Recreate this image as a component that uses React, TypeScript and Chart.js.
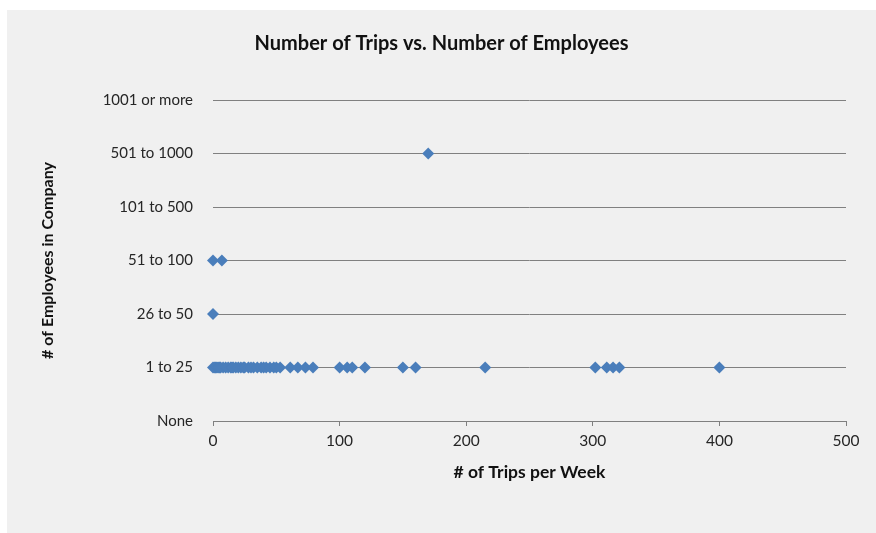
import React, { useEffect, useRef } from "react";
import { Chart, registerables } from "chart.js";

Chart.register(...registerables);

const categories = ["None", "1 to 25", "26 to 50", "51 to 100", "101 to 500", "501 to 1000", "1001 or more"];
const tripsSmall = [0, 1, 2, 3, 4, 5, 6, 8, 10, 12, 14, 15, 16, 18, 20, 22, 24, 25, 28, 30, 32, 35, 38, 40, 42, 45, 48, 50, 53, 61, 67, 73, 79, 100, 106, 110, 120, 150, 160, 215, 302, 311, 316, 321, 400];
const trips26to50 = [0];
const trips51to100 = [0, 7];
const trips501to1000 = [170];
const xTicks = [0, 100, 200, 300, 400, 500];

const FONT = "Lato, 'Open Sans', sans-serif";

export default function App() {
  const ref = useRef<HTMLCanvasElement>(null);
  useEffect(() => {
    const pts = [
      ...tripsSmall.map((x) => ({ x, y: 1 })),
      ...trips26to50.map((x) => ({ x, y: 2 })),
      ...trips51to100.map((x) => ({ x, y: 3 })),
      ...trips501to1000.map((x) => ({ x, y: 5 })),
    ];
    const chart = new Chart(ref.current!, {
      type: "scatter",
      data: {
        datasets: [
          {
            data: pts,
            pointStyle: "rectRot",
            pointRadius: 6,
            backgroundColor: "#4A7EBB",
            borderColor: "#4A7EBB",
            borderWidth: 0,
            clip: false,
          } as any,
        ],
      },
      options: {
        animation: false,
        responsive: true,
        maintainAspectRatio: false,
        layout: { padding: 0 },
        plugins: {
          legend: { display: false },
          tooltip: { enabled: false },
          title: {
            display: true,
            text: "Number of Trips vs. Number of Employees",
            color: "#111",
            font: { family: FONT, size: 20, weight: "bold" },
            padding: { top: 22, bottom: 44 },
          },
        },
        scales: {
          x: {
            type: "linear",
            min: xTicks[0],
            max: xTicks[xTicks.length - 1],
            afterBuildTicks: (s: any) => {
              s.ticks = xTicks.map((v) => ({ value: v }));
            },
            afterFit: (s: any) => {
              s.height = 112;
            },
            grid: { drawOnChartArea: false, drawTicks: true, tickLength: 5, color: "#808080" },
            border: { display: true, color: "#808080" },
            ticks: { color: "#262626", font: { family: FONT, size: 15.5 }, padding: 6, maxRotation: 0 },
            title: {
              display: true,
              text: "# of Trips per Week",
              color: "#111",
              font: { family: FONT, size: 17.5, weight: "bold" },
              padding: { top: 0, bottom: 50 },
            },
          },
          y: {
            type: "linear",
            min: 0,
            max: 6,
            afterBuildTicks: (s: any) => {
              s.ticks = categories.map((_, i) => ({ value: i }));
            },
            afterFit: (s: any) => {
              s.width = 206;
            },
            grid: { drawOnChartArea: true, drawTicks: false, color: "#808080" },
            border: { display: false },
            ticks: {
              color: "#262626",
              font: { family: FONT, size: 15 },
              padding: 20,
              callback: (v: any) => categories[v as number] ?? "",
            },
            title: {
              display: true,
              text: "# of Employees in Company",
              color: "#111",
              font: { family: FONT, size: 16, weight: "bold" },
              padding: { top: 31, bottom: 0 },
            },
          },
          yRight: {
            type: "linear",
            position: "right",
            display: true,
            min: 0,
            max: 6,
            grid: { display: false },
            border: { display: false },
            ticks: { display: false },
            afterFit: (s: any) => {
              s.width = 30;
            },
          },
        },
      },
    });
    return () => chart.destroy();
  }, []);
  return (
    <div
      style={{
        position: "fixed",
        left: 7,
        top: 10,
        width: 869,
        height: 523,
        background: "#f0f0f0",
        boxShadow: "30px 30px 0 0 #f0f0f0",
      }}
    >
      <canvas ref={ref} />
    </div>
  );
}
